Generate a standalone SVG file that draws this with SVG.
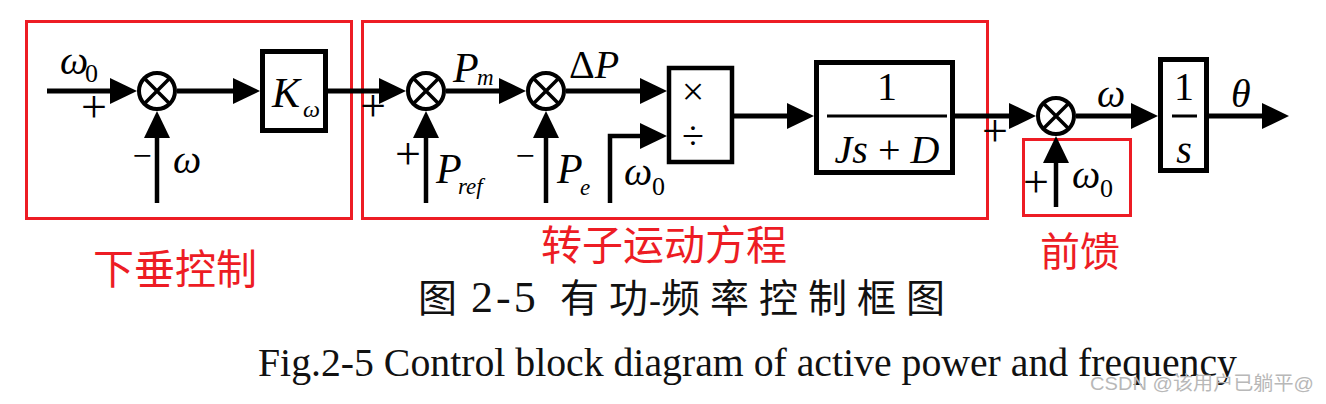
<svg xmlns="http://www.w3.org/2000/svg" xmlns:xlink="http://www.w3.org/1999/xlink" width="1326" height="404" viewBox="0 0 1326 404">
  <style>
    .ln { fill: none; stroke: #000; stroke-width: 5; marker-end: url(#ah); }
    .vl { stroke-width: 4.5; }
    .blk { fill: #fff; stroke: #000; stroke-width: 5; }
    .bar { stroke: #000; stroke-width: 3; }
    .zone { fill: none; stroke: #ed1c24; stroke-width: 3; }
    .m { font-family: "Liberation Serif", "Times New Roman", serif; font-style: italic; font-size: 40px; fill: #000; }
    .up { font-family: "Liberation Serif", "Times New Roman", serif; font-style: normal; }
    .sub { font-size: 26px; }
    .sgn { font-family: "Liberation Serif", "Times New Roman", serif; font-size: 46px; text-anchor: middle; fill: #000; }
    .mid { text-anchor: middle; }
    .tag { font-family: "Noto Sans CJK SC", "Noto Sans", sans-serif; font-size: 41px; fill: #ed1c24; }
    .cap { font-family: "Noto Sans CJK SC", "Liberation Serif", serif; font-size: 39px; fill: #111; }
    .capnum { font-family: "Liberation Serif", "Times New Roman", serif; font-size: 44px; fill: #111; }
    .capen { font-family: "Liberation Serif", "Times New Roman", serif; font-size: 40px; fill: #111; }
    .wm { font-family: "Liberation Sans", "Noto Sans CJK SC", sans-serif; font-size: 19px; fill: #b8b8b8; }
  </style>
  <defs>
    <marker id="ah" markerUnits="userSpaceOnUse" markerWidth="28" markerHeight="26" refX="7" refY="13" orient="auto">
      <path d="M0,0 L27,13 L0,26 z" fill="#000"/>
    </marker>
    <g id="sumj">
      <circle r="18" fill="#fff" stroke="#000" stroke-width="4"/>
      <path d="M-12.7,-12.7 L12.7,12.7 M-12.7,12.7 L12.7,-12.7" stroke="#000" stroke-width="3.5"/>
    </g>
  </defs>

  <rect width="1326" height="404" fill="#fff"/>

  <!-- highlighted regions -->
  <g id="zones">
    <rect class="zone" x="26.5" y="21.5" width="325" height="197"/>
    <rect class="zone" x="362.5" y="21.5" width="625" height="197"/>
    <rect class="zone" x="1023.5" y="139.5" width="107" height="76"/>
  </g>

  <!-- signal lines -->
  <g id="connectors">
    <path class="ln" d="M47,91 H117"/>
    <path class="ln" d="M177,91 H240"/>
    <path class="ln vl" d="M157,203 V131"/>
    <path class="ln" d="M328,91 H386"/>
    <path class="ln vl" d="M426,203 V131"/>
    <path class="ln" d="M446,91 H506"/>
    <path class="ln vl" d="M546,203 V131"/>
    <path class="ln" d="M566,91 H647"/>
    <path class="ln" d="M610,203 V136 H647" style="stroke-width:4.5"/>
    <path class="ln" d="M734,116 H794"/>
    <path class="ln" d="M955,116 H1016"/>
    <path class="ln vl" d="M1056,207 V156"/>
    <path class="ln" d="M1076,116 H1138"/>
    <path class="ln" d="M1209,116 H1269"/>
  </g>

  <!-- speed error junction -->
  <g id="sum1" transform="translate(157,91)"><use xlink:href="#sumj"/></g>
  <g id="sum1-labels">
    <text class="m" x="60" y="74">ω<tspan class="up sub" x="85" y="82">0</tspan></text>
    <text class="sgn" x="94" y="122">+</text>
    <text class="sgn" x="142" y="167" style="font-size:34px">−</text>
    <text class="m" x="173" y="173">ω</text>
  </g>

  <!-- droop gain -->
  <g id="gain">
    <rect class="blk" x="262.5" y="51.5" width="63" height="79"/>
    <text class="m" x="272" y="107" style="font-size:42px">K<tspan class="sub" x="303" y="117" style="font-size:24px">ω</tspan></text>
  </g>

  <!-- mechanical power junction -->
  <g id="sum2" transform="translate(426,91)"><use xlink:href="#sumj"/></g>
  <g id="sum2-labels">
    <text class="sgn" x="373" y="121">+</text>
    <text class="sgn" x="408" y="169">+</text>
    <text class="m" x="436" y="183" style="font-size:42px">P<tspan class="sub" x="458" y="194" style="font-size:23px">ref</tspan></text>
    <text class="m" x="453" y="82" style="font-size:42px">P<tspan class="sub" x="477" y="85" style="font-size:23px">m</tspan></text>
  </g>

  <!-- power difference junction -->
  <g id="sum3" transform="translate(546,91)"><use xlink:href="#sumj"/></g>
  <g id="sum3-labels">
    <text class="sgn" x="525" y="167" style="font-size:34px">−</text>
    <text class="m" x="557" y="183" style="font-size:42px">P<tspan class="sub" x="580" y="195" style="font-size:23px">e</tspan></text>
    <text class="m" x="569" y="78"><tspan class="up">Δ</tspan>P</text>
  </g>

  <!-- multiply / divide -->
  <g id="muldiv">
    <rect class="blk" x="669" y="68" width="63" height="94" style="stroke-width:4.5"/>
    <text class="up mid" x="693" y="105" style="font-size:40px">×</text>
    <text class="up mid" x="693" y="149" style="font-size:40px">÷</text>
    <text class="m" x="624" y="185">ω<tspan class="up sub" x="652" y="195">0</tspan></text>
  </g>

  <!-- rotor equation -->
  <g id="rotor">
    <rect class="blk" x="816.5" y="62.5" width="136" height="110"/>
    <text class="up mid" x="887" y="100" style="font-family:'Liberation Serif',serif;font-size:40px">1</text>
    <line class="bar" x1="827" y1="116" x2="947" y2="116"/>
    <text class="m mid" x="887" y="163" xml:space="preserve">Js<tspan class="up"> + </tspan>D</text>
  </g>

  <!-- feedforward junction -->
  <g id="sum4" transform="translate(1056,116)"><use xlink:href="#sumj"/></g>
  <g id="sum4-labels">
    <text class="sgn" x="995" y="146">+</text>
    <text class="sgn" x="1036" y="197">+</text>
    <text class="m" x="1072" y="188">ω<tspan class="up sub" x="1100" y="197">0</tspan></text>
    <text class="m" x="1097" y="107">ω</text>
  </g>

  <!-- integrator -->
  <g id="integrator">
    <rect class="blk" x="1160.5" y="59.5" width="46" height="111"/>
    <text class="up mid" x="1184" y="100" style="font-family:'Liberation Serif',serif;font-size:40px">1</text>
    <line class="bar" x1="1172" y1="116" x2="1197" y2="116"/>
    <text class="m mid" x="1184" y="163">s</text>
    <text class="m" x="1231" y="107">θ</text>
  </g>

  <!-- region names -->
  <g id="tags">
    <text class="tag" x="93" y="284">下垂控制</text>
    <text class="tag" x="541" y="260">转子运动方程</text>
    <text class="tag" x="1040" y="266" style="font-size:40px">前馈</text>
  </g>

  <!-- captions -->
  <g id="caption">
    <text class="cap" y="312"><tspan x="418">图</tspan><tspan class="capnum" x="471" letter-spacing="3">2-5</tspan><tspan x="560" letter-spacing="10">有功</tspan><tspan class="capnum" x="649" style="font-size:36px">-</tspan><tspan x="661" letter-spacing="10">频率控制框图</tspan></text>
    <text class="capen" x="258" y="376" textLength="979" lengthAdjust="spacingAndGlyphs">Fig.2-5 Control block diagram of active power and frequency</text>
    <text class="wm" x="1090" y="390" textLength="224" lengthAdjust="spacingAndGlyphs">CSDN @该用户已躺平@</text>
  </g>
</svg>
